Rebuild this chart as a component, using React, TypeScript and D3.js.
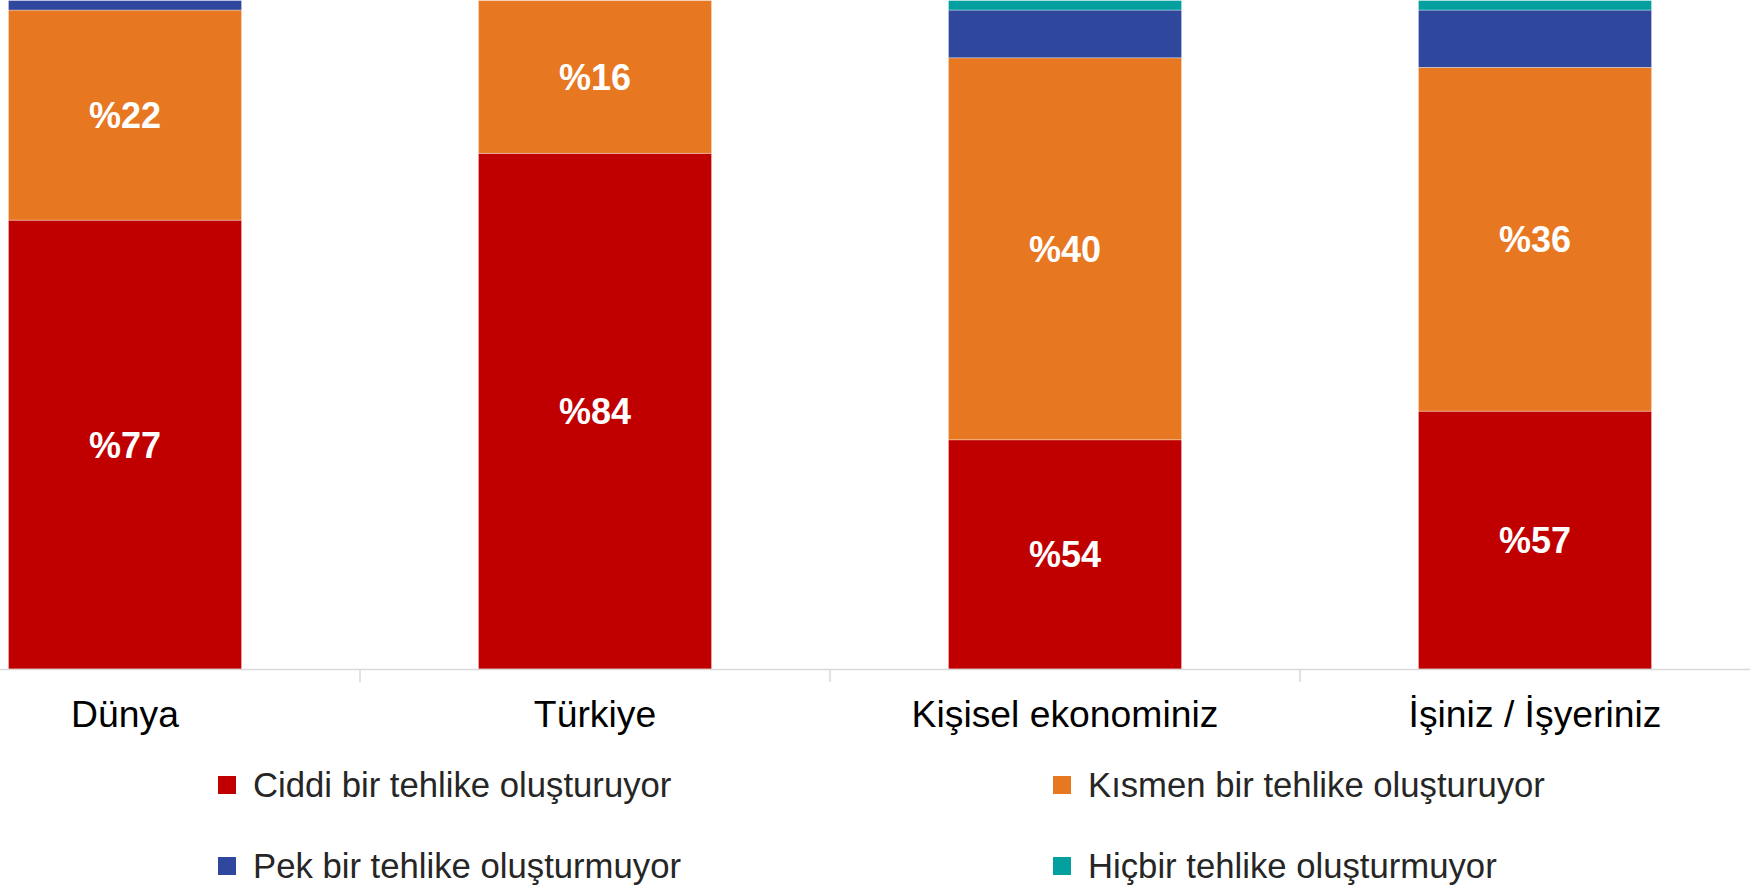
import React from "react";
import * as d3 from "d3";

const categories = ["Dünya", "Türkiye", "Kişisel ekonominiz", "İşiniz / İşyeriniz"];
const seriesNames = [
  "Ciddi bir tehlike oluşturuyor",
  "Kısmen bir tehlike oluşturuyor",
  "Pek bir tehlike oluşturmuyor",
  "Hiçbir tehlike oluşturmuyor",
];
const ciddi = [77, 84, 54, 57];
const kismen = [22, 16, 40, 36];
const pek = [1, 0, 5, 6];
const hicbir = [0, 0, 1, 1];
const seriesColors = ["#C00000", "#E87722", "#2F479C", "#03A09F"];
const labelledSeries = [true, true, false, false];
const yDomain = [30, 100];

const W = 1750;
const H = 889;
const FONT = "'Liberation Sans', Arial, Helvetica, sans-serif";

export default function App() {
  const seriesValues = [ciddi, kismen, pek, hicbir];
  const rows = categories.map((c, i) => {
    const r: any = { cat: c };
    seriesNames.forEach((s, j) => (r[s] = seriesValues[j][i]));
    return r;
  });
  const stacked = d3.stack().keys(seriesNames)(rows);

  const x = d3
    .scaleBand()
    .domain(categories)
    .range([-110, 1770])
    .paddingInner(0.504)
    .paddingOuter(0.252);
  const axisY = 669;
  const y = d3.scaleLinear().domain(yDomain).range([axisY, 0.5]);
  const yStack = (v: number) => (v === 0 ? axisY : y(Math.max(v, yDomain[0])));

  const step = x.step();
  const rangeStart = x.range()[0];
  const tickXs = d3.range(1, categories.length).map((i) => rangeStart + i * step);

  const legendCols = [218, 1053];
  const legendRows = [785, 866];

  return (
    <svg
      width={W}
      height={H}
      style={{ position: "absolute", left: 0, top: 0, background: "#fff" }}
      fontFamily={FONT}
    >
      {stacked.map((layer, j) => (
        <g key={layer.key}>
          {layer.map((d: any, i: number) => {
            const v0 = d[0];
            const v1 = d[1];
            if (v1 - v0 <= 0) return null;
            const top = yStack(v1);
            const bottom = yStack(v0);
            const bx = x(categories[i]) as number;
            return (
              <g key={i}>
                <rect
                  x={bx}
                  y={top}
                  width={x.bandwidth()}
                  height={bottom - top}
                  fill={seriesColors[j]}
                  stroke="rgba(255,255,255,0.45)"
                  strokeWidth={0.75}
                />
                {labelledSeries[j] && (
                  <text
                    x={bx + x.bandwidth() / 2}
                    y={(top + bottom) / 2}
                    dy="0.36em"
                    textAnchor="middle"
                    fill="#fff"
                    fontWeight="bold"
                    fontSize={36}
                  >
                    %{v1 - v0}
                  </text>
                )}
              </g>
            );
          })}
        </g>
      ))}
      <line x1={0} x2={W} y1={axisY + 0.5} y2={axisY + 0.5} stroke="#D9D9D9" strokeWidth={1.5} />
      {tickXs.map((tx, i) => (
        <line key={i} x1={tx} x2={tx} y1={axisY} y2={axisY + 13} stroke="#D9D9D9" strokeWidth={1.5} />
      ))}
      {categories.map((c) => (
        <text
          key={c}
          x={(x(c) as number) + x.bandwidth() / 2}
          y={727}
          textAnchor="middle"
          fontSize={37.3}
          fill="#000"
        >
          {c}
        </text>
      ))}
      {seriesNames.map((s, j) => {
        const cx = legendCols[j % 2];
        const cy = legendRows[Math.floor(j / 2)];
        return (
          <g key={s}>
            <rect x={cx} y={cy - 9} width={18} height={18} fill={seriesColors[j]} />
            <text x={cx + 35} y={cy} dy="0.36em" fontSize={34.7} fill="#262626">
              {s}
            </text>
          </g>
        );
      })}
    </svg>
  );
}
